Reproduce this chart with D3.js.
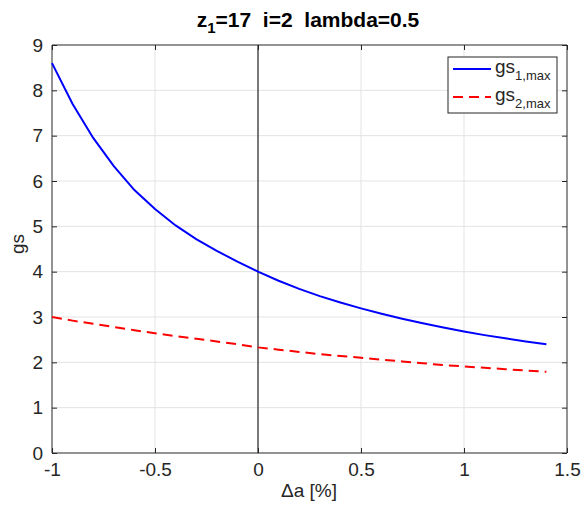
<!DOCTYPE html>
<html>
<head>
<meta charset="utf-8">
<script src="https://cdn.jsdelivr.net/npm/d3@7"></script>
<style>
  body { margin: 0; background: #fff; }
  text { font-family: "Liberation Sans", Helvetica, Arial, sans-serif; }
</style>
</head>
<body>
<div id="chart"></div>
<script>
// Δa [%] values
var xVals = [-1, -0.9, -0.8, -0.7, -0.6, -0.5, -0.4, -0.3, -0.2, -0.1, 0,
             0.1, 0.2, 0.3, 0.4, 0.5, 0.6, 0.7, 0.8, 0.9, 1.0, 1.1, 1.2, 1.3, 1.4];
// gs_1,max (blue)
var gs1 = [8.6, 7.7, 6.95, 6.33, 5.8, 5.38, 5.02, 4.72, 4.46, 4.22, 4.0,
           3.80, 3.62, 3.46, 3.32, 3.19, 3.07, 2.96, 2.86, 2.77, 2.68, 2.60, 2.53, 2.46, 2.40];
// gs_2,max (red dashed)
var gs2 = [3.0, 2.92, 2.85, 2.78, 2.71, 2.64, 2.58, 2.52, 2.46, 2.40, 2.33,
           2.28, 2.23, 2.18, 2.14, 2.10, 2.06, 2.02, 1.98, 1.94, 1.91, 1.88, 1.85, 1.82, 1.79];
var xTicks = [-1, -0.5, 0, 0.5, 1, 1.5];
var yTicks = [0, 1, 2, 3, 4, 5, 6, 7, 8, 9];

var width = 582, height = 506;
var margin = {top: 45, right: 15, bottom: 53, left: 52};
var fontSize = "19px";

var svg = d3.select("#chart").append("svg")
  .attr("width", width).attr("height", height);

var x = d3.scaleLinear().domain([-1, 1.5]).range([margin.left, width - margin.right]);
var y = d3.scaleLinear().domain([0, 9]).range([height - margin.bottom, margin.top]);

var axisColor = "#262626";

// grid
svg.append("g").selectAll("line")
  .data(xTicks.slice(1, -1)).enter().append("line")
  .attr("x1", d => x(d)).attr("x2", d => x(d))
  .attr("y1", y(0)).attr("y2", y(9))
  .attr("stroke", "#e3e3e3").attr("stroke-width", 1);
svg.append("g").selectAll("line")
  .data(yTicks.slice(1, -1)).enter().append("line")
  .attr("x1", x(-1)).attr("x2", x(1.5))
  .attr("y1", d => y(d)).attr("y2", d => y(d))
  .attr("stroke", "#e3e3e3").attr("stroke-width", 1);

// vertical line at zero
svg.append("line")
  .attr("x1", x(0)).attr("x2", x(0))
  .attr("y1", y(0)).attr("y2", y(9))
  .attr("stroke", "#000").attr("stroke-width", 1);

// axes (ticks inward, box)
var fmt = d => String(d);
var axB = svg.append("g").attr("transform", `translate(0,${y(0)})`)
  .call(d3.axisBottom(x).tickValues(xTicks).tickSize(-5).tickPadding(10).tickFormat(fmt));
var axT = svg.append("g").attr("transform", `translate(0,${y(9)})`)
  .call(d3.axisTop(x).tickValues(xTicks).tickSize(-5).tickFormat(""));
var axL = svg.append("g").attr("transform", `translate(${x(-1)},0)`)
  .call(d3.axisLeft(y).tickValues(yTicks).tickSize(-5).tickPadding(9).tickFormat(fmt));
var axR = svg.append("g").attr("transform", `translate(${x(1.5)},0)`)
  .call(d3.axisRight(y).tickValues(yTicks).tickSize(-5).tickFormat(""));

[axB, axT, axL, axR].forEach(function(g) {
  g.select(".domain").attr("stroke", axisColor).attr("stroke-width", 1);
  g.selectAll(".tick line").attr("stroke", axisColor);
  g.selectAll(".tick text").attr("fill", axisColor).style("font-size", fontSize)
    .style("font-family", "'Liberation Sans', Helvetica, Arial, sans-serif");
});
axB.select(".domain").attr("d", `M${x(-1)},0H${x(1.5)}`);
axT.select(".domain").attr("d", `M${x(-1)},0H${x(1.5)}`);
axL.select(".domain").attr("d", `M0,${y(0)}V${y(9)}`);
axR.select(".domain").attr("d", `M0,${y(0)}V${y(9)}`);

// curves
var line = d3.line().x(d => x(d[0])).y(d => y(d[1]));
svg.append("path")
  .datum(xVals.map((v, i) => [v, gs2[i]]))
  .attr("d", line).attr("fill", "none")
  .attr("stroke", "#ff0000").attr("stroke-width", 2)
  .attr("stroke-dasharray", "10,6");
svg.append("path")
  .datum(xVals.map((v, i) => [v, gs1[i]]))
  .attr("d", line).attr("fill", "none")
  .attr("stroke", "#0000ff").attr("stroke-width", 2);

// title
var title = svg.append("text")
  .attr("x", 308).attr("y", 27)
  .attr("text-anchor", "middle")
  .style("font-size", "21px").style("font-weight", "bold").attr("fill", "#000");
title.append("tspan").text("z");
title.append("tspan").attr("dy", 6).style("font-size", "15px").text("1");
title.append("tspan").attr("dy", -6).text("=17\u00a0\u00a0i=2\u00a0\u00a0lambda=0.5");

// axis labels
svg.append("text")
  .attr("x", 309).attr("y", 497)
  .attr("text-anchor", "middle").attr("fill", axisColor)
  .style("font-size", fontSize).text("\u0394a [%]");
svg.append("text")
  .attr("transform", "translate(24,244) rotate(-90)")
  .attr("text-anchor", "middle").attr("fill", axisColor)
  .style("font-size", fontSize).text("gs");

// legend
var lg = svg.append("g").attr("transform", "translate(448,57)");
lg.append("rect").attr("width", 109).attr("height", 56)
  .attr("fill", "#fff").attr("stroke", axisColor).attr("stroke-width", 1);
var items = [
  {sub: "1,max", color: "#0000ff", dash: null},
  {sub: "2,max", color: "#ff0000", dash: "10,6"}
];
items.forEach(function(it, i) {
  var yy = 12 + i * 28;
  lg.append("line").attr("x1", 5).attr("x2", 43).attr("y1", yy).attr("y2", yy)
    .attr("stroke", it.color).attr("stroke-width", 2)
    .attr("stroke-dasharray", it.dash);
  var t = lg.append("text").attr("x", 47).attr("y", yy + 4)
    .attr("fill", axisColor).style("font-size", fontSize);
  t.append("tspan").text("gs");
  t.append("tspan").attr("dy", 7).style("font-size", "13px").text(it.sub);
});
</script>
</body>
</html>
